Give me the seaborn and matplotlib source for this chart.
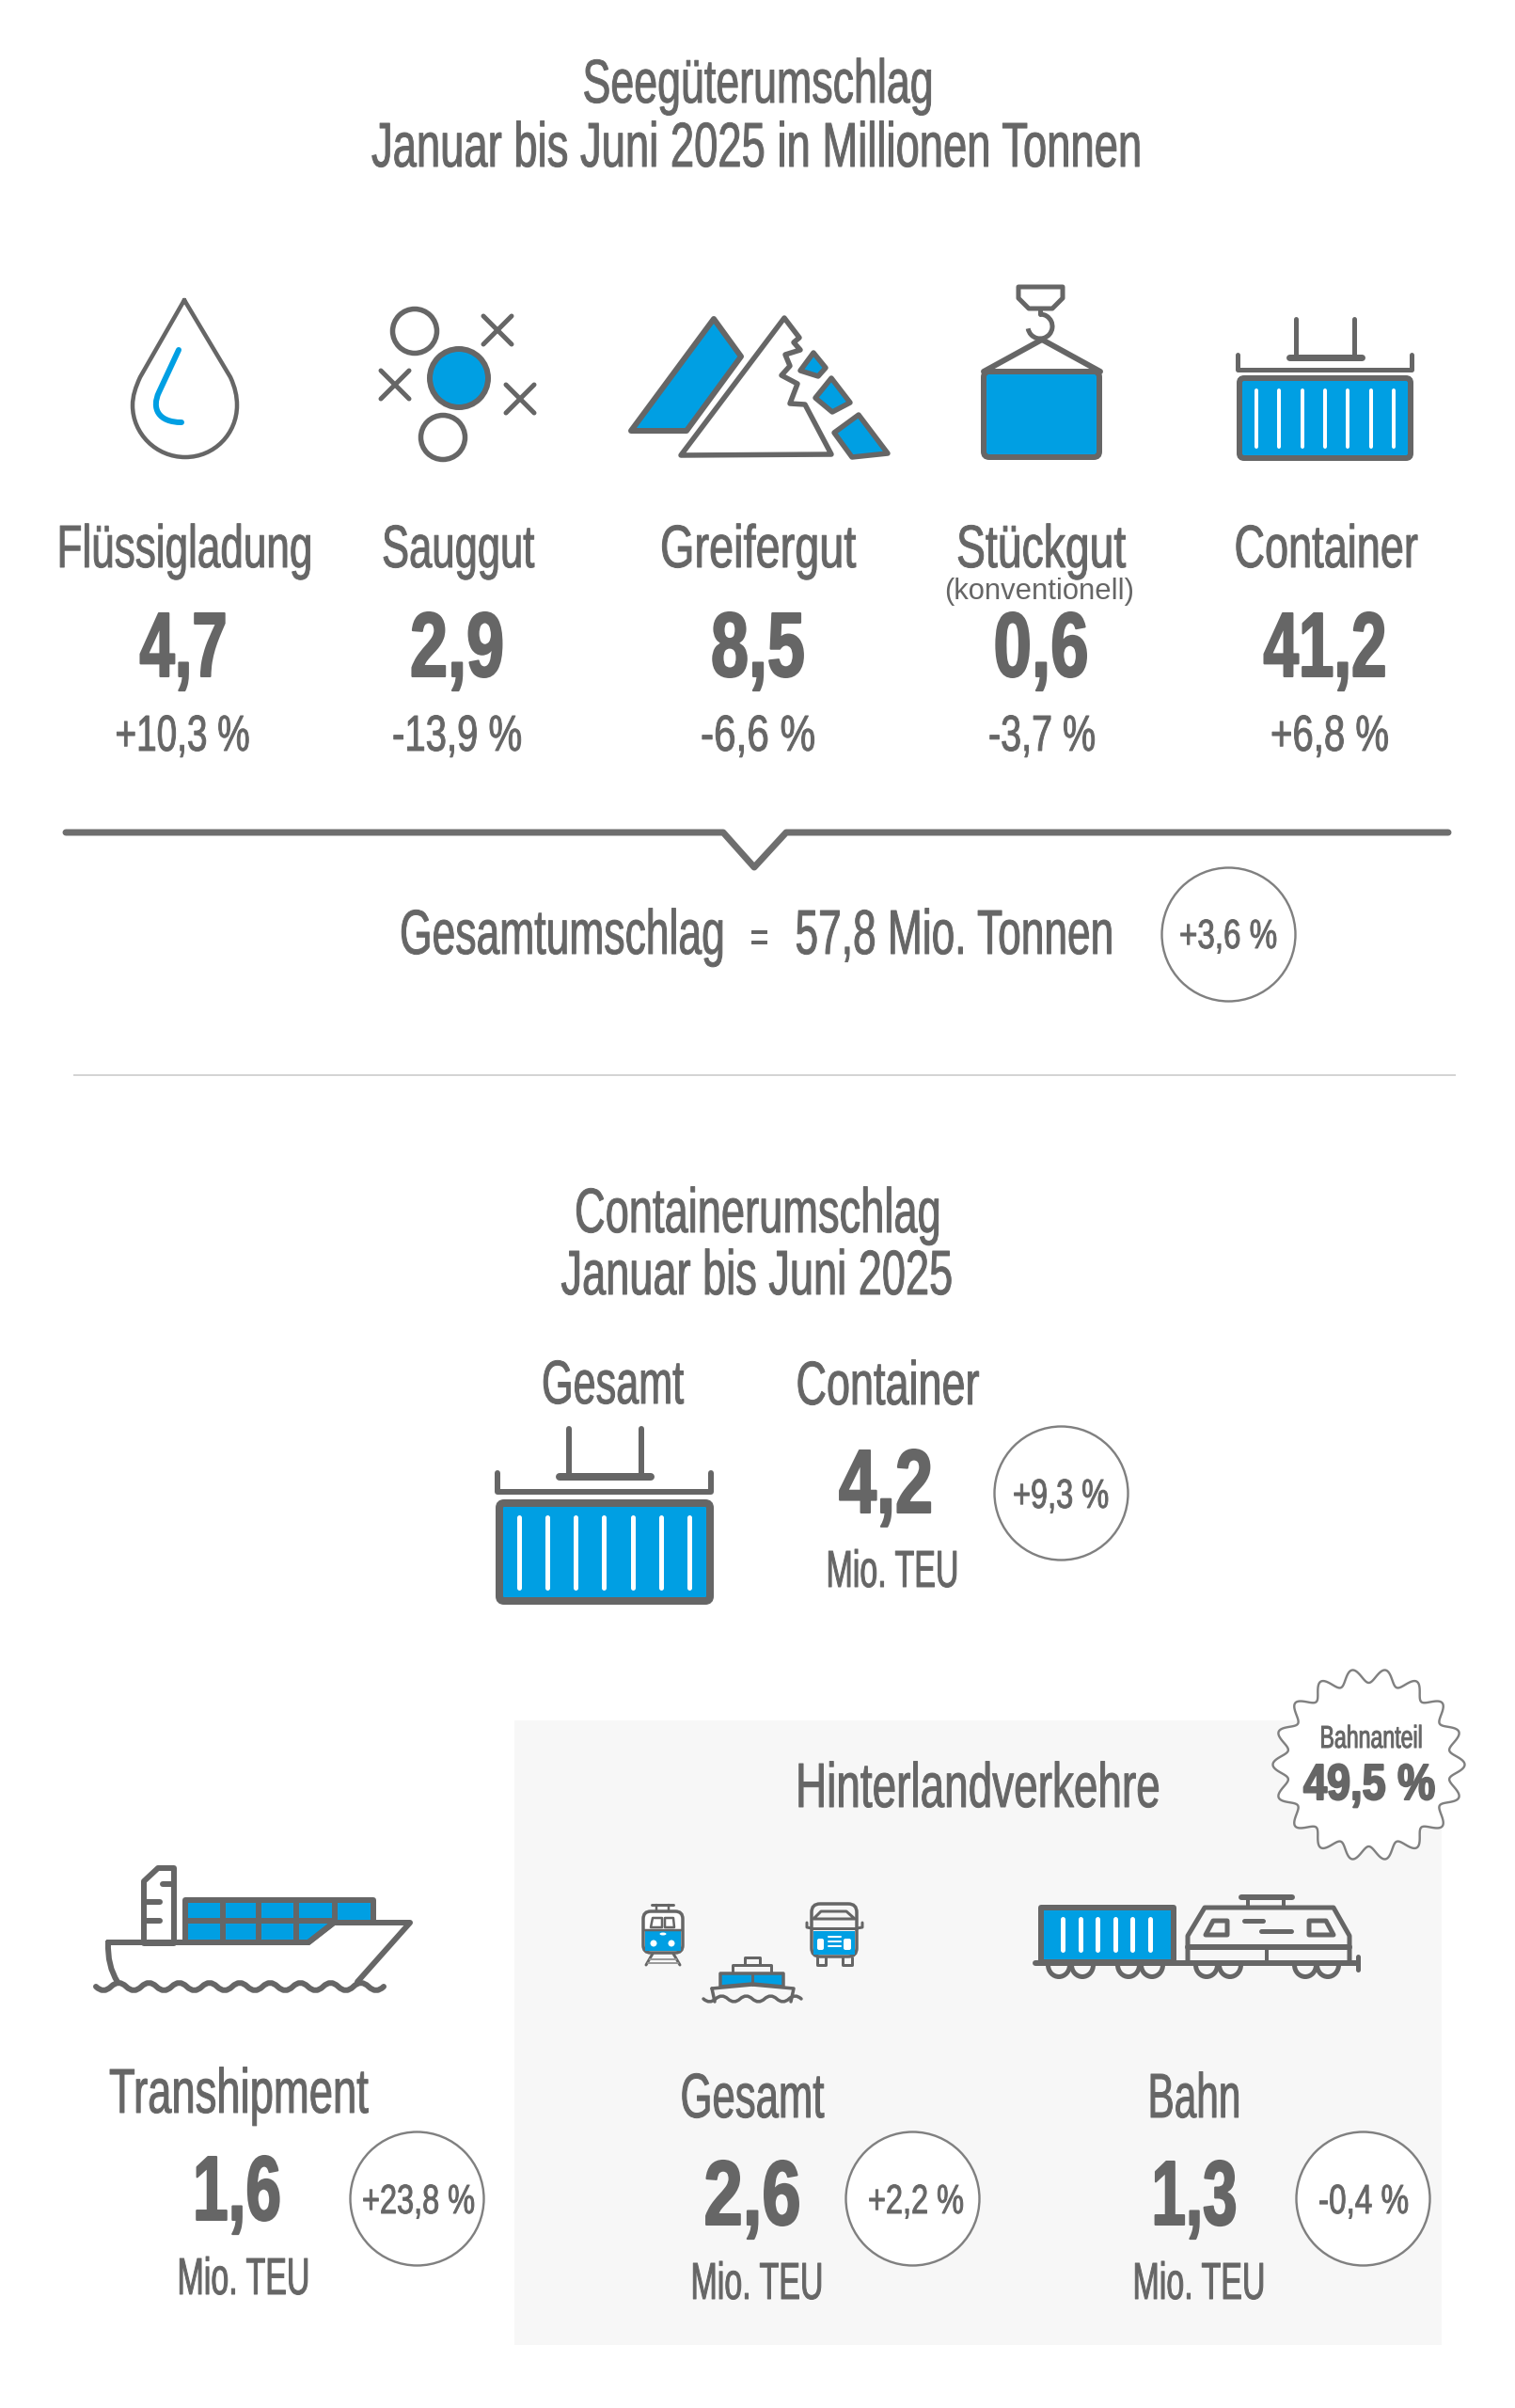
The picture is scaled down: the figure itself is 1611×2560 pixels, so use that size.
import numpy as np
import pandas as pd
import matplotlib
matplotlib.use("Agg")
import matplotlib.pyplot as plt
import seaborn as sns
from matplotlib.patches import PathPatch, Polygon, Rectangle, FancyBboxPatch, Ellipse, Arc
from matplotlib.path import Path
from matplotlib.patheffects import AbstractPathEffect
from matplotlib.text import Text
from matplotlib.transforms import Affine2D, Bbox

# ---- data ----
TITLE_TOP = ["Seegüterumschlag", "Januar bis Juni 2025 in Millionen Tonnen"]
CARGO = ["Flüssigladung", "Sauggut", "Greifergut", "Stückgut", "Container"]
CARGO_MT = [4.7, 2.9, 8.5, 0.6, 41.2]
CARGO_CHG = [10.3, -13.9, -6.6, -3.7, 6.8]
TOTAL_MT = 57.8
TOTAL_CHG = 3.6
TITLE_BOX = ["Containerumschlag", "Januar bis Juni 2025"]
BOX_TOTAL = 4.2
BOX_CHG = 9.3
SPLIT = ["Transhipment", "Gesamt", "Bahn"]
SPLIT_TEU = [1.6, 2.6, 1.3]
SPLIT_CHG = [23.8, 2.2, -0.4]
RAIL_SHARE = 49.5

# ---- layout ----
CARGO_X = [196, 487, 806, 1107, 1410]
CARGO_W = [271, 162, 208, 180, 195]
VAL_X = [195, 486, 806, 1107, 1409]
VAL_W = [93, 100, 100, 101, 131]
CHG_X = [194, 486, 806, 1108, 1414]
CHG_W = [143, 138, 122, 114, 126]
SPLIT_LABEL_X = [254, 800, 1270]
SPLIT_LABEL_W = [276, 153, 99]
SPLIT_VAL_X = [252, 800, 1270]
SPLIT_VAL_W = [94, 103, 91]
SPLIT_UNIT_X = [259, 805, 1275]
SPLIT_TXT_X = [445, 974, 1450]
SPLIT_TXT_W = [120, 102, 96]
RING_X = [1306, 1128, 442.5, 970, 1449]
RING_Y = [993, 1586.5, 2337, 2337, 2337]

GREY = "#666666"
BLUE = "#009fe3"
RING = "#808080"
PANEL = "#f7f7f7"
PX = 0.72  # points per pixel at dpi 100


def de(v, signed=True):
    s = f"{v:+.1f}" if signed else f"{v:.1f}"
    return s.replace(".", ",")


class Condense(AbstractPathEffect):
    def __init__(self, sx, cx, stroke, color):
        super().__init__()
        self.sx, self.cx, self.stroke, self.color = sx, cx, stroke, color

    def draw_path(self, renderer, gc, tpath, affine, rgbFace=None):
        a = affine + Affine2D().translate(-self.cx, 0).scale(self.sx, 1).translate(self.cx, 0)
        g = renderer.new_gc()
        g.copy_properties(gc)
        g.set_linewidth(self.stroke)
        g.set_foreground(self.color)
        g.set_joinstyle("round")
        renderer.draw_path(g, tpath, a, rgbFace)
        g.restore()


class CondensedText(Text):
    _sx = 1.0
    _cx = 0.0

    def get_window_extent(self, renderer=None, dpi=None):
        b = super().get_window_extent(renderer, dpi)
        x0 = self._cx + (b.x0 - self._cx) * self._sx
        x1 = self._cx + (b.x1 - self._cx) * self._sx
        return Bbox([[x0, b.y0], [x1, b.y1]])


sns.set_theme(style="white")
fig = plt.figure(figsize=(16.11, 25.6), dpi=100, facecolor="white")
ax = fig.add_axes([0, 0, 1, 1])
ax.set_xlim(0, 1611)
ax.set_ylim(2560, 0)
ax.axis("off")
sns.despine(ax=ax, left=True, bottom=True)
rend = fig.canvas.get_renderer()
FAM = ["Liberation Sans Narrow", "Liberation Sans"]


def T(x, base, s, cap, width, bold=False, stroke=None):
    t = CondensedText(x, base, s, ha="center", va="baseline", color=GREY,
                      family=FAM, weight="bold" if bold else "normal",
                      fontsize=cap / 0.688 * PX, zorder=20)
    ax.add_artist(t)
    cx = ax.transData.transform((x, base))[0]
    w = Text.get_window_extent(t, rend).width
    t._cx, t._sx = cx, width / w
    st = stroke if stroke is not None else (1.5 if bold else 0.7)
    t.set_path_effects([Condense(t._sx, cx, st, GREY)])
    return t


def L(pts, lw=6, color=GREY, z=5, cap="round", join="round"):
    xs, ys = zip(*pts)
    ax.plot(xs, ys, color=color, lw=lw * PX, solid_capstyle=cap, solid_joinstyle=join, zorder=z)


def P(pts, fc="none", ec=GREY, lw=6, z=5):
    ax.add_patch(Polygon(pts, closed=True, fc=fc, ec=ec, lw=lw * PX, joinstyle="round", zorder=z))


def RR(x0, y0, x1, y1, r, fc, ec=GREY, lw=6, z=5):
    ax.add_patch(FancyBboxPatch((x0 + r, y0 + r), x1 - x0 - 2 * r, y1 - y0 - 2 * r,
                                boxstyle=f"round,pad={r},rounding_size={r}",
                                fc=fc, ec=ec, lw=lw * PX, zorder=z))


def C(cx, cy, rx, ry=None, fc="none", ec=GREY, lw=6, z=5):
    ax.add_patch(Ellipse((cx, cy), 2 * rx, 2 * (ry or rx), fc=fc, ec=ec, lw=lw * PX, zorder=z))


def PTH(verts, codes, fc="none", ec=GREY, lw=6, z=5):
    ax.add_patch(PathPatch(Path(verts, codes), fc=fc, ec=ec, lw=lw * PX,
                           capstyle="round", joinstyle="round", zorder=z))


def wave(x0, x1, y, period, amp, lw=5, z=6):
    n = int(round((x1 - x0) / (period / 2)))
    step = (x1 - x0) / n
    v = [(x0, y)]
    c = [Path.MOVETO]
    for i in range(n):
        sgn = -1 if i % 2 else 1
        v += [(x0 + (i + .5) * step, y + sgn * 2 * amp), (x0 + (i + 1) * step, y)]
        c += [Path.CURVE3, Path.CURVE3]
    PTH(v, c, lw=lw, z=z)


def container(x0, y0, x1, y1, stripes, sy0, sy1, lw, slw):
    RR(x0, y0, x1, y1, 5, BLUE, lw=lw)
    for sx in stripes:
        L([(sx, sy0), (sx, sy1)], lw=slw, color="white", z=6)


def spreader(xa, xb, ytop, ybar, bx0, bx1, lx, rx, ybr0, ybr1, lw):
    L([(xa, ytop), (xa, ybar)], lw=lw)
    L([(xb, ytop), (xb, ybar)], lw=lw)
    L([(bx0, ybar), (bx1, ybar)], lw=lw + 2)
    L([(lx, ybr0), (lx, ybr1), (rx, ybr1), (rx, ybr0)], lw=lw)


# ---- panel ----
ax.add_patch(Rectangle((547, 1829), 986, 664, fc=PANEL, ec="none", zorder=1))

# ---- rings through seaborn ----
rings = pd.DataFrame({"x": RING_X, "y": RING_Y})
sns.scatterplot(data=rings, x="x", y="y", s=(142 * PX) ** 2, color="white",
                edgecolor=RING, linewidth=2.4 * PX, ax=ax, zorder=3, legend=False, clip_on=False)
ax.set_xlim(0, 1611)
ax.set_ylim(2560, 0)

# ---- titles ----
T(806, 109, TITLE_TOP[0], 45, 373)
T(805, 177, TITLE_TOP[1], 46, 820)
T(806, 1310, TITLE_BOX[0], 46, 390)
T(805, 1376, TITLE_BOX[1], 46, 417)

# ---- drop ----
M, LN, C4 = Path.MOVETO, Path.LINETO, Path.CURVE4
PTH([(196, 319), (149, 401), (144, 412), (141, 421), (141, 431), (141, 461), (166, 486), (197, 486),
     (228, 486), (252, 461), (252, 431), (252, 421), (250, 412), (245, 401), (196, 319)],
    [M, LN, C4, C4, C4, C4, C4, C4, C4, C4, C4, C4, C4, C4, LN], lw=4.5)
PTH([(190, 372), (169, 417), (161, 434), (168, 449), (193, 449)], [M, LN, C4, C4, C4], ec=BLUE, lw=6)

# ---- sauggut ----
C(441, 352, 23.5, lw=5.5)
C(471, 465, 23.5, lw=5.5)
C(488, 402, 31, fc=BLUE, lw=6)
for cx, cy in [(529, 351), (420, 409), (553, 424)]:
    L([(cx - 15, cy - 15), (cx + 15, cy + 15)], lw=5)
    L([(cx - 15, cy + 15), (cx + 15, cy - 15)], lw=5)

# ---- greifergut ----
P([(759, 339), (788, 379), (730, 458), (671, 458)], fc=BLUE, lw=6)
P([(834, 338), (850, 359), (844, 364), (851, 372), (835, 377), (840, 389), (831, 399), (848, 408),
   (840, 429), (856, 430), (884, 483), (724, 484)], lw=5.5)
P([(865, 375), (878, 391), (870, 400), (851, 394)], fc=BLUE, lw=5.5)
P([(884, 402), (904, 428), (885, 438), (867, 423)], fc=BLUE, lw=5.5)
P([(913, 441), (944, 482), (906, 486), (887, 460)], fc=BLUE, lw=5.5)

# ---- stueckgut ----
P([(1083, 305), (1130, 305), (1130, 317), (1119, 328), (1094, 328), (1083, 317)], lw=5)
ax.add_patch(Arc((1106, 347), 26, 26, theta1=-90, theta2=170, ec=GREY, lw=5 * PX, zorder=5))
L([(1106, 330), (1106, 334)], lw=5)
L([(1108, 361), (1046, 395)], lw=6)
L([(1108, 361), (1170, 395)], lw=6)
RR(1046, 395, 1169, 486, 6, BLUE, lw=6)

# ---- container ----
spreader(1378, 1440, 339, 380, 1371, 1448, 1316, 1501, 377, 393, 5)
container(1318, 402, 1500, 487, [1335.5, 1360, 1384.5, 1409, 1433, 1457.5, 1482], 415, 475, 6, 4)

# ---- cargo table ----
for i in range(5):
    T(CARGO_X[i], 603, CARGO[i], 44, CARGO_W[i])
    T(VAL_X[i], 719, de(CARGO_MT[i], False), 67, VAL_W[i], bold=True)
    T(CHG_X[i], 798, de(CARGO_CHG[i]) + " %", 37, CHG_W[i])
ax.text(1105, 637, "(konventionell)", ha="center", va="baseline", color=GREY,
        family="Liberation Sans", fontsize=31 * PX, zorder=20)

# ---- bracket ----
L([(70, 885), (769, 885), (802, 922), (836, 885), (1540, 885)], lw=7, color="#6e6e6e")
T(598, 1014, "Gesamtumschlag", 46, 346)
T(807, 1010, "=", 30, 20)
T(1015, 1014, f"{de(TOTAL_MT, False)} Mio. Tonnen", 46, 339)
T(1306, 1008, de(TOTAL_CHG) + " %", 30, 104)

# ---- divider ----
L([(78, 1143), (1548, 1143)], lw=2, color="#d4d4d4", cap="butt")

# ---- container total ----
T(651.5, 1492, "Gesamt", 45, 151)
T(944, 1493, "Container", 45, 195)
T(942, 1608, de(BOX_TOTAL, False), 66, 100, bold=True)
T(949, 1687, "Mio. TEU", 38, 141)
T(1128, 1603, de(BOX_CHG) + " %", 30, 102)
spreader(604.5, 682, 1519, 1570, 595, 692, 528.5, 756, 1566, 1586, 6)
container(531, 1598, 755, 1702, [552, 582, 612, 642, 672.5, 702.5, 732.5], 1613, 1688, 8, 5)

# ---- ship ----
P([(153, 2066), (153, 2000), (168, 1986), (185, 1986), (185, 2066)], fc="white", lw=6)
L([(173, 2003), (185, 2003)], lw=6)
L([(155, 2022), (170, 2022)], lw=6)
L([(155, 2042), (170, 2042)], lw=6)
P([(197, 2020), (397, 2020), (397, 2044), (355, 2044), (328, 2065), (197, 2065)], fc=BLUE, lw=6)
L([(197, 2042), (355, 2042)], lw=6)
for sx, yb in [(237, 2065), (275, 2065), (315, 2065), (356, 2044)]:
    L([(sx, 2020), (sx, yb)], lw=6)
PTH([(115, 2065), (328, 2065), (355, 2044), (436, 2044), (380, 2107), (125, 2107), (114, 2090), (115, 2065)],
    [M, LN, LN, LN, LN, M, Path.CURVE3, Path.CURVE3], lw=6)
wave(102, 408, 2112, 32, 4, lw=6)

# ---- hinterland ----
T(1040, 1921, "Hinterlandverkehre", 46, 388)

# tram
L([(693, 2025), (716, 2025)], lw=3)
L([(698, 2025), (698, 2032)], lw=2.5)
L([(711, 2025), (711, 2032)], lw=2.5)
RR(684, 2032, 726, 2076, 8, "white", lw=3.5)
ax.add_patch(Rectangle((686, 2053), 38, 21, fc=BLUE, ec="none", zorder=6))
L([(685, 2052), (725, 2052)], lw=2.5, z=7)
P([(694, 2039), (704, 2039), (704, 2049), (692, 2049)], lw=2.5)
P([(707, 2039), (716, 2039), (717, 2049), (707, 2049)], lw=2.5)
for ex, ey, rx, ry in [(695, 2066, 3.5, 3.5), (714, 2066, 3.5, 3.5), (705, 2056, 3.5, 1.5)]:
    C(ex, ey, rx, ry, fc="white", ec="none", lw=0, z=8)
L([(694, 2077), (687, 2089)], lw=3)
L([(716, 2077), (723, 2089)], lw=3)
L([(691, 2083), (719, 2083)], lw=2, color="#9a9a9a")
L([(689, 2087), (721, 2087)], lw=2, color="#9a9a9a")

# bus
RR(863, 2024, 911, 2080, 9, PANEL, lw=3.5)
ax.add_patch(Rectangle((865, 2053), 44, 25, fc=BLUE, ec="none", zorder=6))
L([(863, 2050), (911, 2050)], lw=3, z=7)
P([(865, 2040), (873, 2032), (900, 2032), (909, 2040)], lw=3)
L([(858, 2044), (858, 2049), (863, 2050)], lw=3)
L([(917, 2044), (917, 2049), (911, 2050)], lw=3)
for x0, x1 in [(869, 878), (896, 906)]:
    L([(x0, 2081), (x0, 2089), (x1, 2089), (x1, 2081)], lw=3)
RR(869, 2061, 876, 2073, 2, "white", ec="none", lw=0, z=8)
RR(897, 2061, 905, 2073, 2, "white", ec="none", lw=0, z=8)
for ly in [2059, 2064, 2069]:
    L([(881, ly), (894, ly)], lw=2, color="white", z=8)

# ferry
P([(792, 2081), (808, 2081), (808, 2089), (792, 2089)], lw=3)
P([(779, 2089), (820, 2089), (820, 2098), (779, 2098)], lw=3)
P([(766, 2098), (833, 2098), (833, 2112), (800, 2109), (766, 2112)], fc=BLUE, lw=3.5)
L([(800, 2098), (800, 2110)], lw=3)
L([(757, 2114), (800, 2110), (844, 2114), (841, 2128)], lw=3.5)
L([(757, 2114), (760, 2128)], lw=3.5)
wave(748, 852, 2125, 27, 3, lw=3.5)

# train
P([(1107, 2028), (1248, 2028), (1248, 2086), (1107, 2086)], fc=BLUE, lw=6)
for sx in [1129.5, 1148.5, 1167, 1186, 1204, 1223]:
    L([(sx, 2040), (sx, 2073)], lw=5, color="white", z=6)
L([(1101, 2087), (1444, 2087)], lw=6)
L([(1444, 2080), (1444, 2094)], lw=5)
for wx in [1126, 1151, 1200, 1225, 1283, 1308, 1388, 1412]:
    ax.add_patch(Arc((wx, 2089), 23, 25, theta1=0, theta2=180, ec=GREY, lw=5 * PX, zorder=5))
P([(1263, 2087), (1263, 2058), (1281, 2028), (1418, 2028), (1435, 2058), (1435, 2087)], lw=5)
L([(1320, 2017), (1374, 2017)], lw=6)
L([(1327, 2017), (1327, 2028)], lw=4)
L([(1365, 2017), (1365, 2028)], lw=4)
L([(1263, 2070), (1435, 2070)], lw=6)
L([(1347, 2070), (1347, 2087)], lw=4)
P([(1282, 2057), (1290, 2042), (1305, 2042), (1305, 2057)], lw=5)
P([(1392, 2042), (1410, 2042), (1418, 2057), (1392, 2057)], lw=5)
L([(1323, 2042), (1343, 2042)], lw=5)
L([(1341, 2053), (1373, 2053)], lw=5)

# split figures
for i in range(3):
    off = 0 if i else -5
    T(SPLIT_LABEL_X[i], 2251 + off, SPLIT[i], 46, SPLIT_LABEL_W[i])
    T(SPLIT_VAL_X[i], 2365 + off, de(SPLIT_TEU[i], False), 67, SPLIT_VAL_W[i], bold=True)
    T(SPLIT_UNIT_X[i], 2444 + off, "Mio. TEU", 38, 141)
    T(SPLIT_TXT_X[i], 2353, de(SPLIT_CHG[i]) + " %", 30, SPLIT_TXT_W[i])

# ---- rail share star ----
theta = np.linspace(0, 2 * np.pi, 721)
r = 94.5 + 7.5 * np.cos(18 * theta)
ax.add_patch(Polygon(np.c_[1455.5 + r * np.cos(theta), 1876 - r * np.sin(theta)], closed=True,
                     fc="white", ec=RING, lw=2.4 * PX, zorder=8))
T(1458, 1858, "Bahnanteil", 23, 109)
T(1456, 1913, de(RAIL_SHARE, False) + " %", 37, 140, bold=True)

fig.savefig("out.png", dpi=100, facecolor="white")
